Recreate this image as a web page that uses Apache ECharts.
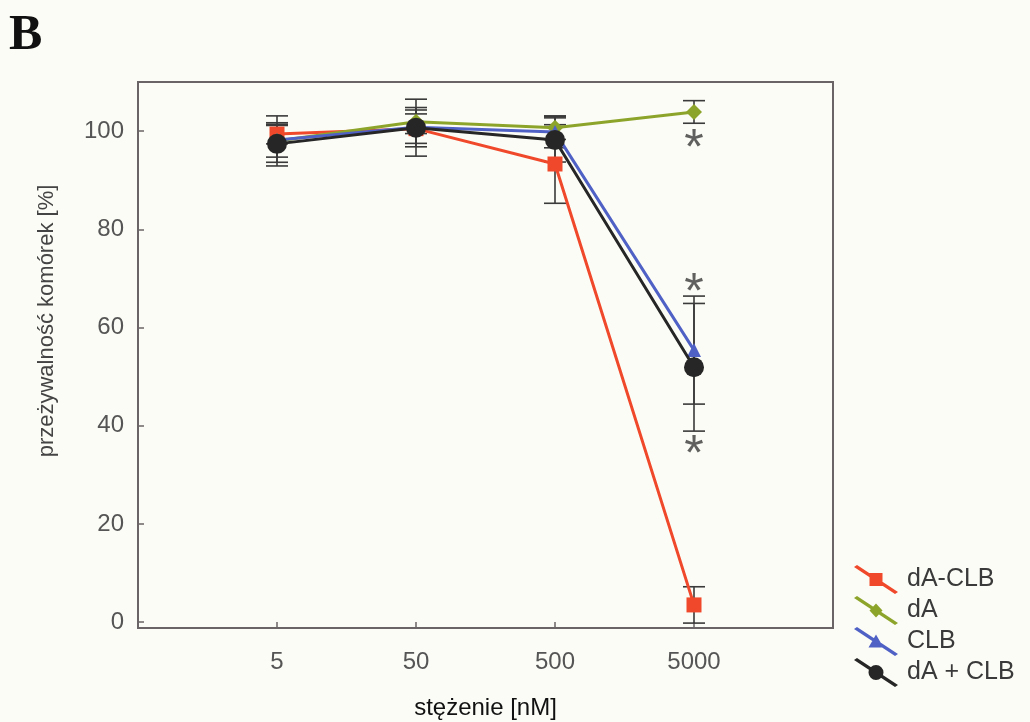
<!DOCTYPE html>
<html>
<head>
<meta charset="utf-8">
<script src="https://cdn.jsdelivr.net/npm/echarts@6/dist/echarts.min.js"></script>
<style>
  html, body { margin: 0; padding: 0; background: #fbfcf5; }
  #chart { width: 1030px; height: 722px; }
</style>
</head>
<body>
<div id="chart"></div>
<script>
// Concentrations on the x axis (evenly spaced categories)
const concentrations = ['5', '50', '500', '5000'];

// Mean cell survival [%] per treatment
const dA_CLB = [99.4, 100.5, 93.3, 3.5];
const dA = [98.0, 101.9, 100.7, 103.9];
const CLB = [98.2, 100.8, 99.8, 55.4];
const dA_plus_CLB = [97.4, 100.7, 98.2, 51.9];

// Standard deviations
const dA_CLB_sd = [2.0, 3.0, 8.0, 3.7];
const dA_sd = [5.1, 2.4, 2.4, 2.3];
const CLB_sd = [3.5, 4.0, 3.2, 11.0];
const dA_plus_CLB_sd = [3.75, 5.8, 4.5, 13.0];

// Significance markers at 5000 nM
const starPoints = [[4, 98.3], [4, 69.0], [4, 36.0]];

const yTicks = [0, 20, 40, 60, 80, 100];

const seriesDefs = [
  { name: 'dA-CLB', values: dA_CLB, sd: dA_CLB_sd, color: '#f0482a', symbol: 'rect', size: 15,
    icon: 'path://M0,2 L3,0 L44,27 L41,29 Z M15.5,8 L28.5,8 L28.5,21 L15.5,21 Z' },
  { name: 'dA', values: dA, sd: dA_sd, color: '#8da42b', symbol: 'diamond', size: 16,
    icon: 'path://M0,2 L3,0 L44,27 L41,29 Z M22,7.5 L28.5,14.5 L22,21.5 L15.5,14.5 Z' },
  { name: 'CLB', values: CLB, sd: CLB_sd, color: '#5061c6', symbol: 'triangle', size: 14,
    icon: 'path://M0,2 L3,0 L44,27 L41,29 Z M22,7.5 L29.5,20.5 L14.5,20.5 Z' },
  { name: 'dA + CLB', values: dA_plus_CLB, sd: dA_plus_CLB_sd, color: '#262626', symbol: 'circle', size: 20,
    icon: 'path://M0,2 L3,0 L44,27 L41,29 Z M14.5,14.5 A7.5,7.5 0 1,1 29.5,14.5 A7.5,7.5 0 1,1 14.5,14.5 Z' }
];

const chart = echarts.init(document.getElementById('chart'), null, { renderer: 'canvas' });

// Vertical whisker with caps for mean ± SD
function errorBarRender(params, api) {
  const x = api.value(0);
  const lo = api.coord([x, api.value(1)]);
  const hi = api.coord([x, api.value(2)]);
  const half = 11;
  const style = { stroke: '#3a3a3a', lineWidth: 1.6 };
  return {
    type: 'group',
    children: [
      { type: 'line', shape: { x1: lo[0], y1: lo[1], x2: hi[0], y2: hi[1] }, style: style },
      { type: 'line', shape: { x1: lo[0] - half, y1: lo[1], x2: lo[0] + half, y2: lo[1] }, style: style },
      { type: 'line', shape: { x1: hi[0] - half, y1: hi[1], x2: hi[0] + half, y2: hi[1] }, style: style }
    ]
  };
}

const series = [];
seriesDefs.forEach(function (d) {
  series.push({
    type: 'custom',
    name: d.name + ' sd',
    renderItem: errorBarRender,
    z: 1,
    silent: true,
    data: d.values.map(function (v, i) { return [i + 1, v - d.sd[i], v + d.sd[i]]; })
  });
});
seriesDefs.forEach(function (d, k) {
  series.push({
    type: 'line',
    name: d.name,
    data: d.values.map(function (v, i) { return [i + 1, v]; }),
    symbol: d.symbol,
    symbolSize: d.size,
    showAllSymbol: true,
    z: 3 + k,
    lineStyle: { color: d.color, width: 3 },
    itemStyle: { color: d.color, borderWidth: 0 },
    emphasis: { disabled: true }
  });
});
series.push({
  type: 'scatter',
  name: 'stars',
  data: starPoints,
  symbolSize: 1,
  itemStyle: { color: 'rgba(0,0,0,0)' },
  z: 10,
  label: {
    show: true,
    position: 'inside',
    formatter: '*',
    fontFamily: 'Liberation Sans',
    fontSize: 50,
    color: '#3a3a3a',
    offset: [0, 11]
  }
});

const option = {
  backgroundColor: '#fbfcf5',
  animation: false,
  textStyle: { fontFamily: 'Liberation Sans' },
  graphic: [
    { type: 'text', left: 9, top: 11,
      style: { text: 'B', font: 'bold 50px "Liberation Serif"', fill: '#111' } }
  ],
  grid: {
    left: 138, right: 197, top: 82, bottom: 94,
    outerBoundsMode: 'none',
    containLabel: false,
    show: true, borderColor: '#6a6466', borderWidth: 2, backgroundColor: 'transparent'
  },
  legend: {
    orient: 'vertical',
    left: 849, top: 560,
    itemWidth: 44, itemHeight: 29, itemGap: 2,
    data: seriesDefs.map(function (d) { return { name: d.name, icon: d.icon, itemStyle: { color: d.color } }; }),
    textStyle: { fontSize: 25, color: '#3a3a3a', padding: [0, 0, 0, 4] },
    selectedMode: false
  },
  xAxis: {
    type: 'value',
    min: 0, max: 5,
    name: 'stężenie [nM]',
    nameLocation: 'middle',
    nameGap: 68,
    nameTextStyle: { fontSize: 24, color: '#111' },
    axisLine: { show: true, onZero: false, lineStyle: { color: '#6a6466', width: 2 } },
    axisTick: { show: true, inside: true, length: 6, customValues: [1, 2, 3, 4], lineStyle: { color: '#6a6466', width: 1.5 } },
    axisLabel: {
      customValues: [1, 2, 3, 4],
      formatter: function (v) { return concentrations[Math.round(v) - 1] || ''; },
      fontSize: 24, color: '#555', margin: 22
    },
    splitLine: { show: false }
  },
  yAxis: {
    type: 'value',
    min: -1.2, max: 110,
    name: 'przeżywalność komórek [%]',
    nameLocation: 'middle',
    nameGap: 80,
    nameTextStyle: { fontSize: 22, color: '#444', padding: [0, 0, 0, 68] },
    axisLine: { show: true, onZero: false, lineStyle: { color: '#6a6466', width: 2 } },
    axisTick: { show: true, inside: true, length: 6, customValues: yTicks, lineStyle: { color: '#6a6466', width: 1.5 } },
    axisLabel: {
      customValues: yTicks,
      fontSize: 24, color: '#555', margin: 14
    },
    splitLine: { show: false }
  },
  series: series
};

chart.setOption(option);
</script>
</body>
</html>
